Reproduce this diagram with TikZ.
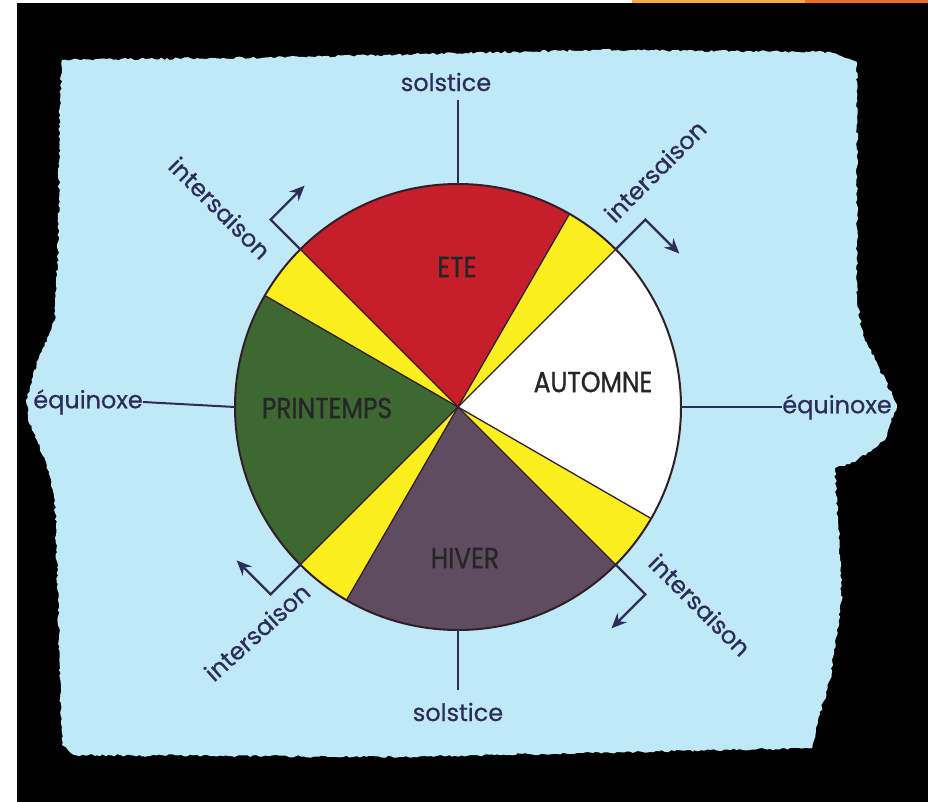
\documentclass[tikz,border=0pt]{standalone}
\usepackage{fontspec}
\setmainfont{Poppins}[FakeBold=0.6]
\newfontfamily\capsfont{Poppins}[FakeStretch=0.86, FakeBold=1.0]
\usetikzlibrary{arrows.meta,decorations.pathmorphing,calc}

\definecolor{paper}{RGB}{192,233,248}
\definecolor{ink}{RGB}{46,44,88}
\definecolor{ete}{RGB}{198,30,42}
\definecolor{inter}{RGB}{250,238,30}
\definecolor{printemps}{RGB}{62,104,50}
\definecolor{hiver}{RGB}{96,76,96}
\definecolor{edge}{RGB}{50,30,40}
\definecolor{barA}{RGB}{247,168,64}
\definecolor{barB}{RGB}{240,106,42}

\tikzset{
  tag/.style={text=ink, font=\fontsize{24}{24}\selectfont, inner sep=0pt},
  season/.style={text=black!85, font=\capsfont\fontsize{29}{29}\selectfont, inner sep=0pt},
  axis/.style={draw=ink, line width=2pt},
  turn/.style={draw=ink, line width=2.3pt, -{Stealth[length=15pt,width=13pt]}},
  wedge/.style={draw=edge, line width=1.3pt},
}

\begin{document}
\begin{tikzpicture}[x=1pt,y=-1pt]
\useasboundingbox (0,0) rectangle (928,802);
% frame around the scanned sheet
\fill[black] (0,0) rectangle (928,802);
\fill[white] (0,0) rectangle (17,802);
\fill[white] (0,0) rectangle (632,3);
\fill[barA] (632,0) rectangle (805,3);
\fill[barB] (805,0) rectangle (928,3);

% torn light-blue sheet
\pgfmathsetseed{7}
\fill[paper, decorate, decoration={random steps, segment length=3pt, amplitude=1.2pt}]
  (62,60) -- (300,57) -- (600,50) -- (830,52) -- (845,58) -- (857,62)
  -- (857,300) -- (863,335) -- (880,370) -- (897,405) -- (885,440)
  -- (855,462) -- (835,468) -- (838,520) -- (842,600) -- (830,680)
  -- (818,720) -- (812,748) -- (400,757) -- (75,755) -- (62,745)
  -- (58,600) -- (55,500) -- (45,460) -- (30,425) -- (26,400)
  -- (38,360) -- (55,320) -- (58,250) -- (60,100) -- cycle;

% season wheel
\begin{scope}[shift={(458,407)}, y=1pt]
  \def\R{223}
  \coordinate (c) at (0,0);
  \fill[ete]       (c) -- (60:\R)  arc[start angle=60,  end angle=135, radius=\R] -- cycle;
  \fill[inter]     (c) -- (135:\R) arc[start angle=135, end angle=150, radius=\R] -- cycle;
  \fill[printemps] (c) -- (150:\R) arc[start angle=150, end angle=225, radius=\R] -- cycle;
  \fill[inter]     (c) -- (225:\R) arc[start angle=225, end angle=240, radius=\R] -- cycle;
  \fill[hiver]     (c) -- (240:\R) arc[start angle=240, end angle=315, radius=\R] -- cycle;
  \fill[inter]     (c) -- (315:\R) arc[start angle=315, end angle=330, radius=\R] -- cycle;
  \fill[white]     (c) -- (330:\R) arc[start angle=330, end angle=405, radius=\R] -- cycle;
  \fill[inter]     (c) -- (45:\R)  arc[start angle=45,  end angle=60,  radius=\R] -- cycle;
  \foreach \a in {45,60,135,150,225,240,315,330}
    \draw[wedge] (c) -- (\a:\R);
  \draw[edge, line width=2pt] (c) circle[radius=\R];

  % rim points used by the axes and the turning arrows
  \coordinate (top) at (90:\R);
  \coordinate (bot) at (270:\R);
  \coordinate (lft) at (180:\R);
  \coordinate (rgt) at (0:\R);
  \foreach \n/\a in {ul/135, ur/45, lr/-45, ll/225} {
    \coordinate (\n0) at (\a:\R);
    \coordinate (\n1) at (\a:\R+42);
    \coordinate (\n2) at ($(\n1)+(\a-90:48)$);
  }
  \draw[turn] (ul0) -- (ul1) -- (ul2);
  \draw[turn] (ur0) -- (ur1) -- (ur2);
  \draw[turn] (lr0) -- (lr1) -- (lr2);
  \draw[turn] (ll0) -- (ll1) -- (ll2);
\end{scope}

% season names
\node[season] (ete) at (457,267) {ETE};
\node[season] (aut) at (593,382) {AUTOMNE};
\node[season] (pri) at (327,408) {PRINTEMPS};
\node[season] (hiv) at (465,558) {HIVER};

% axis labels
\node[tag] (solN) at (446,82) {solstice};
\node[tag] (solS) at (458,712) {solstice};
\node[tag] (eqW)  at (88,402) {équinoxe};
\node[tag] (eqE)  at (837,407) {équinoxe};
\draw[axis] (top) -- (458,100) coordinate (topEnd);
\draw[axis] (bot) -- (458,690) coordinate (botEnd);
\draw[axis] (lft) -- (eqW.east);
\draw[axis] (rgt) -- (eqE.west);

% in-between season labels
\node[tag, rotate=-45] (iUL) at (220,208) {intersaison};
\node[tag, rotate=45]  (iUR) at (655,171) {intersaison};
\node[tag, rotate=42]  (iLL) at (257,632) {intersaison};
\node[tag, rotate=-45] (iLR) at (700,605) {intersaison};
\end{tikzpicture}
\end{document}
